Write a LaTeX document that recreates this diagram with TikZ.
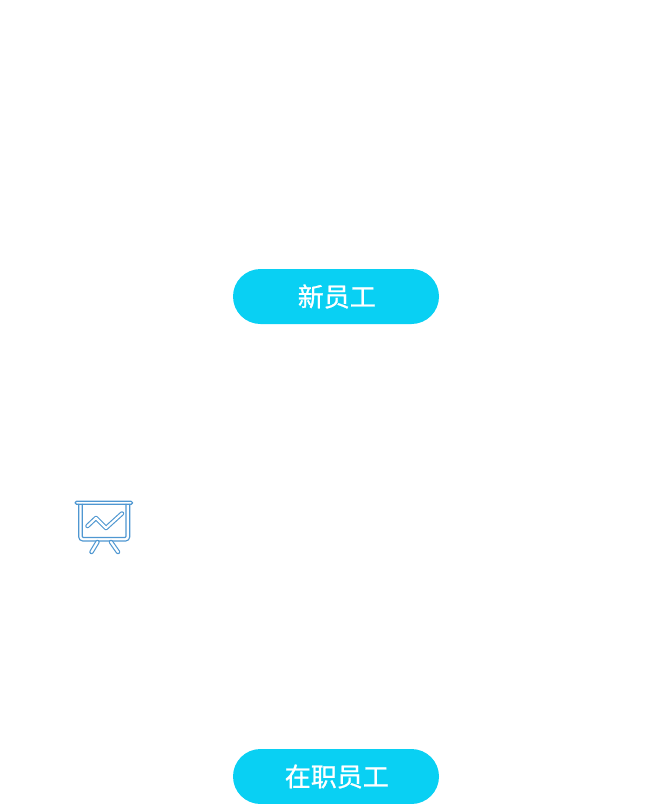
\documentclass[tikz,border=0pt]{standalone}
\usepackage{fontspec}
\setmainfont[FakeBold=0.9]{Noto Sans CJK SC}
\usetikzlibrary{shapes.misc}
\definecolor{pillblue}{HTML}{09D0F3}
\definecolor{iconblue}{HTML}{4F97D1}
\newcommand{\pilllabel}[1]{\hspace*{1.6pt}\raisebox{-0.8pt}{#1}}
\begin{document}
\begin{tikzpicture}[x=1pt,y=-1pt]
    \tikzstyle{pill}=[rounded rectangle,fill=pillblue,text=white,minimum width=206pt,minimum height=55pt,inner sep=0pt,font=\fontsize{26pt}{30pt}\selectfont]
    \tikzstyle{iconline}=[draw=iconblue,line width=1.15pt,line join=round,line cap=round]
    \tikzstyle{iconhollow}=[iconline,double=white,double distance=2.2pt]

    \useasboundingbox (0,0) rectangle (672,804);

    % Draw the two buttons
    \node[pill] (new) at (336,296.5) {\pilllabel{新员工}};
    \node[pill] (staff) at (336,776.5) {\pilllabel{在职员工}};

    % Draw the board icon
    \draw[iconline,rounded corners=1.5pt] (75,501.3) rectangle (132.7,504.3);
    \draw[iconline,rounded corners=4pt] (78.7,504.3) -- (78.7,541) -- (129.7,541) -- (129.7,504.3);
    \draw[iconline,rounded corners=1pt] (82.3,504.3) -- (82.3,537.5) -- (126,537.5) -- (126,504.3);
    \draw[iconhollow] (87.5,526) -- (96,518) -- (106,528) -- (122,513.5);

    % Draw the legs
    \draw[iconhollow] (97.5,542) -- (91.5,552);
    \draw[iconhollow] (111,542) -- (118,552);
\end{tikzpicture}
\end{document}
